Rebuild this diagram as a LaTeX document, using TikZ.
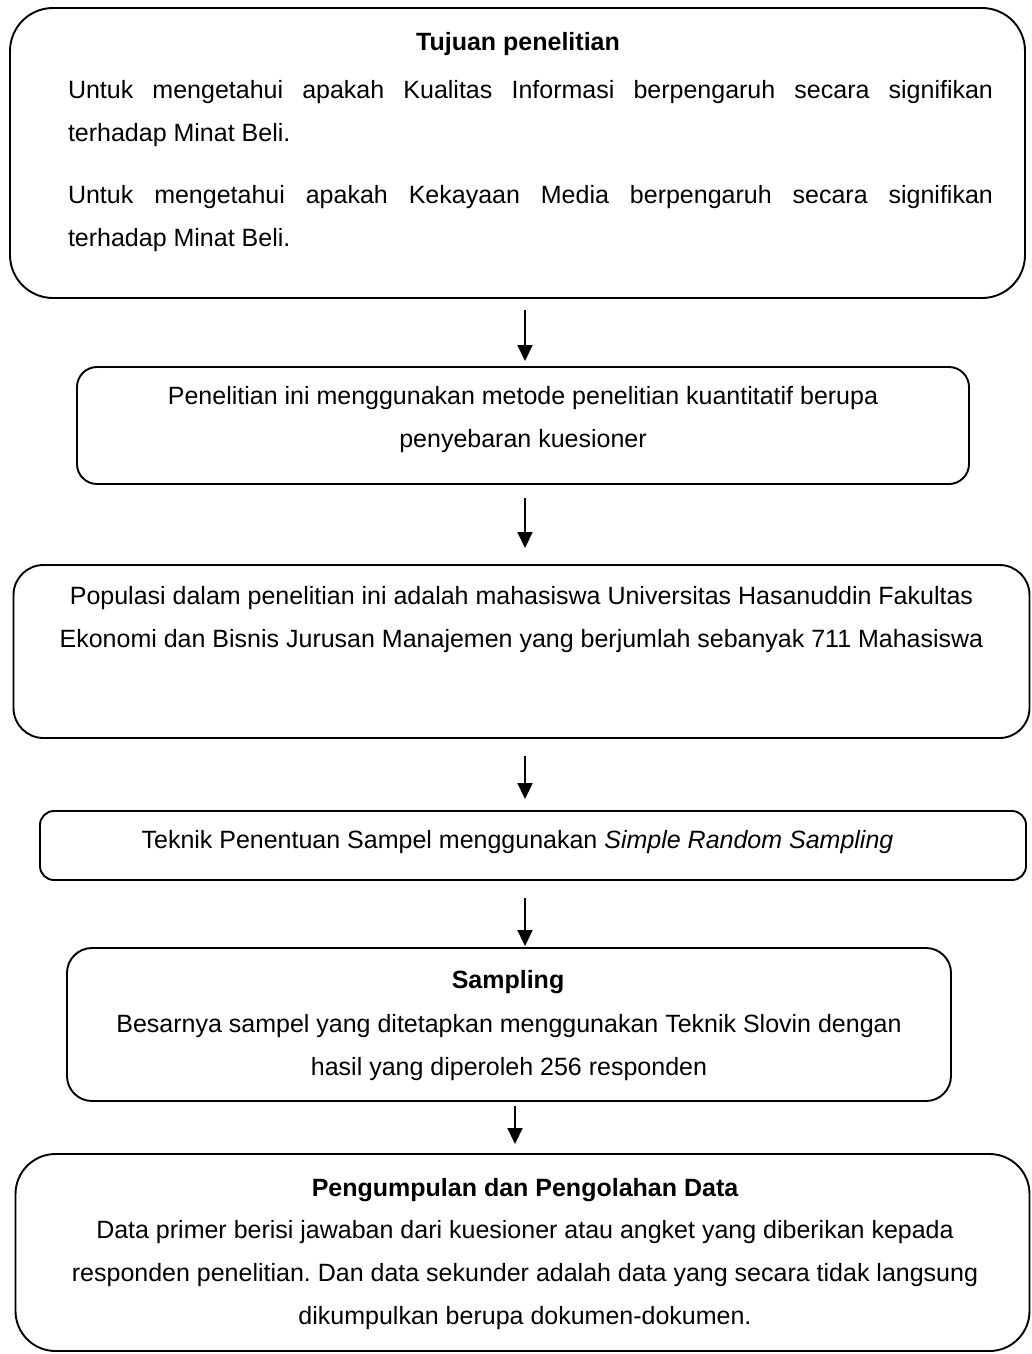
\documentclass[tikz,border=0pt]{standalone}
\usepackage{fontspec}
\setmainfont{Liberation Sans}
\usetikzlibrary{arrows.meta}
\frenchspacing
\begin{document}
\begin{tikzpicture}[x=1pt,y=-1pt,
  box/.style={draw, line width=1.9pt, inner sep=0pt},
  txt/.style={font=\fontsize{25}{43}\selectfont\frenchspacing, inner sep=0pt, align=center},
  boldtxt/.style={font=\fontsize{25}{43}\selectfont\bfseries, inner sep=0pt, align=center},
  arr/.style={line width=1.7pt, -{Triangle[width=15pt,length=16pt]}}]
\useasboundingbox (0,0) rectangle (1031,1354);
\fill[white] (0,0) rectangle (1031,1354);
% boxes
\node[box, rounded corners=43pt, minimum width=1015pt, minimum height=290pt] (b1) at (517.5,153) {};
\node[box, rounded corners=20pt, minimum width=892pt, minimum height=117pt] (b2) at (523,425.5) {};
\node[box, rounded corners=30pt, minimum width=1016pt, minimum height=173pt] (b3) at (521.5,651.5) {};
\node[box, rounded corners=14pt, minimum width=986pt, minimum height=69pt] (b4) at (533,845.5) {};
\node[box, rounded corners=25pt, minimum width=884pt, minimum height=153pt] (b5) at (509,1024.5) {};
\node[box, rounded corners=40pt, minimum width=1014pt, minimum height=197pt] (b6) at (522.5,1252.5) {};
% texts
\node[boldtxt] (t1) at (518,44) {Tujuan penelitian};
\node[txt, text width=925pt, align=justify] (p1) at (530.5,113.5) {Untuk mengetahui apakah Kualitas Informasi berpengaruh secara signifikan\linebreak terhadap Minat Beli.};
\node[txt, text width=925pt, align=justify] (p2) at (530.5,218.5) {Untuk mengetahui apakah Kekayaan Media berpengaruh secara signifikan\linebreak terhadap Minat Beli.};
\node[txt] (t2) at (523,420) {Penelitian ini menggunakan metode penelitian kuantitatif berupa\\penyebaran kuesioner};
\node[txt] (t3) at (521.5,620) {Populasi dalam penelitian ini adalah mahasiswa Universitas Hasanuddin Fakultas\\Ekonomi dan Bisnis Jurusan Manajemen yang berjumlah sebanyak 711 Mahasiswa};
\node[txt] (t4) at (517.5,842) {Teknik Penentuan Sampel menggunakan \textit{Simple Random Sampling}};
\node[boldtxt] (t5) at (508,982) {Sampling};
\node[txt] (t5b) at (509,1047.5) {Besarnya sampel yang ditetapkan menggunakan Teknik Slovin dengan\\hasil yang diperoleh 256 responden};
\node[boldtxt] (t6) at (525,1190) {Pengumpulan dan Pengolahan Data};
\node[txt] (t6b) at (525,1275) {Data primer berisi jawaban dari kuesioner atau angket yang diberikan kepada\\responden penelitian. Dan data sekunder adalah data yang secara tidak langsung\\dikumpulkan berupa dokumen-dokumen.};
% arrows
\coordinate (ax) at (525,0);
\coordinate (ay) at (515,0);
\draw[arr, shorten <=11pt, shorten >=5pt] (b1.south -| ax) -- (b2.north -| ax);
\draw[arr, shorten <=13pt, shorten >=16pt] (b2.south -| ax) -- (b3.north -| ax);
\draw[arr, shorten <=17pt, shorten >=11pt] (b3.south -| ax) -- (b4.north -| ax);
\draw[arr, shorten <=17pt, shorten >=1pt] (b4.south -| ax) -- (b5.north -| ax);
\draw[arr, shorten <=4pt, shorten >=9pt] (b5.south -| ay) -- (b6.north -| ay);
\end{tikzpicture}
\end{document}
